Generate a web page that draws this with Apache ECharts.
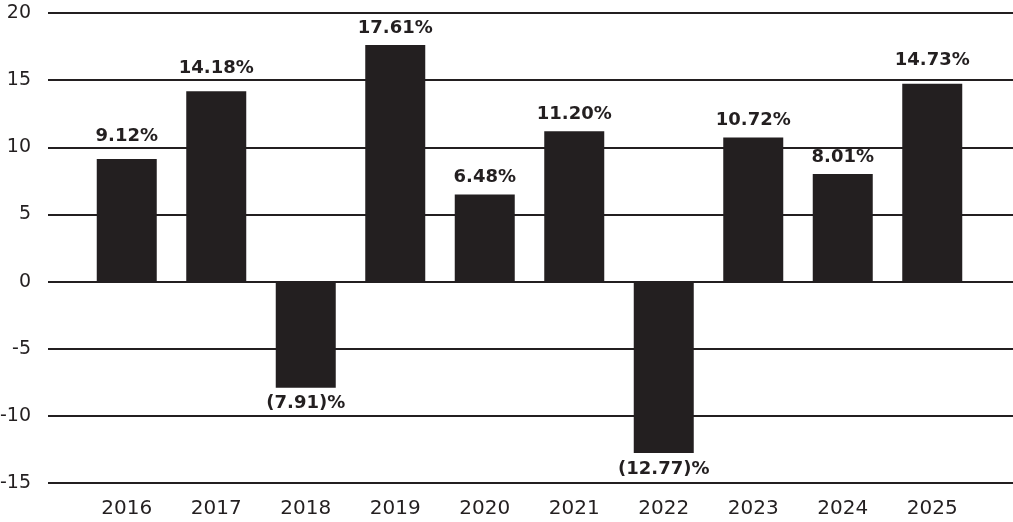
<!DOCTYPE html>
<html>
<head>
<meta charset="utf-8">
<script src="https://cdn.jsdelivr.net/npm/echarts@6/dist/echarts.min.js"></script>
<style>
  html, body { margin: 0; padding: 0; background: #fff; }
  #chart { width: 1013px; height: 522px; }
</style>
</head>
<body>
<div id="chart"></div>
<script>
var years = ['2016', '2017', '2018', '2019', '2020', '2021', '2022', '2023', '2024', '2025'];
var returns = [9.12, 14.18, -7.91, 17.61, 6.48, 11.20, -12.77, 10.72, 8.01, 14.73];
var yMin = -15, yMax = 20, yStep = 5;

var ink = '#231f20';
var font = '"DejaVu Sans", sans-serif';

var myChart = echarts.init(document.getElementById('chart'));

function fmt(v) {
  return v < 0 ? '(' + Math.abs(v).toFixed(2) + ')%' : v.toFixed(2) + '%';
}

// label would sit on a gridline -> lift it above that line
function hitsGrid(v) {
  var next = Math.ceil(v / yStep) * yStep;
  return next - v < 1.6;
}

myChart.setOption({
  animation: false,
  grid: [
    // wide grid: only carries the horizontal rules and y labels
    { left: 48, right: 0, top: 13, bottom: 39, outerBoundsMode: 'none' },
    // bars
    { left: 82, right: 36, top: 13, bottom: 39, outerBoundsMode: 'none' }
  ],
  xAxis: [
    { gridIndex: 0, type: 'value', show: false },
    {
      gridIndex: 1,
      type: 'category',
      data: years,
      axisLine: { show: false },
      axisTick: { show: false },
      axisLabel: { color: ink, fontSize: 20, fontFamily: font, margin: 16 }
    }
  ],
  yAxis: [
    {
      gridIndex: 0,
      type: 'value',
      min: yMin, max: yMax, interval: yStep,
      axisLine: { show: false },
      axisTick: { show: false },
      axisLabel: { color: ink, fontSize: 19, fontFamily: font, margin: 17 },
      splitLine: { lineStyle: { color: ink, width: 1.8 } }
    },
    {
      gridIndex: 1,
      type: 'value',
      min: yMin, max: yMax, interval: yStep,
      show: false
    }
  ],
  series: [{
    type: 'bar',
    xAxisIndex: 1,
    yAxisIndex: 1,
    barWidth: 60,
    itemStyle: { color: ink },
    data: returns.map(function (v) {
      return {
        value: v,
        label: v < 0
          ? { position: 'bottom', distance: 7 }
          : { position: 'top', distance: hitsGrid(v) ? 14 : 8 }
      };
    }),
    label: {
      show: true,
      color: ink,
      fontSize: 18,
      fontWeight: 'bold',
      fontFamily: font,
      formatter: function (p) { return fmt(p.value); }
    }
  }]
});
</script>
</body>
</html>
